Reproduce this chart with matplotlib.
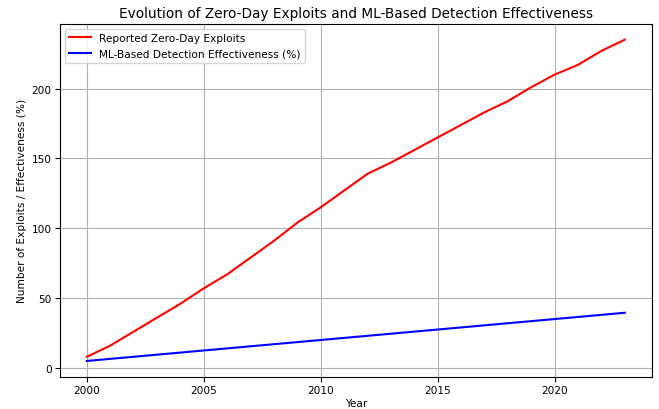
import matplotlib
matplotlib.use("Agg")
import matplotlib.pyplot as plt

years = list(range(2000, 2024))
exploits = [8, 16, 26, 36, 46, 57, 67, 79, 91, 104, 115, 127, 139, 147, 156, 165,
            174, 183, 191, 201, 210, 217, 227, 235]
ml_effect = [5.0, 6.5, 8.0, 9.5, 11.0, 12.5, 14.0, 15.5, 17.0, 18.5, 20.0, 21.5,
             23.0, 24.5, 26.0, 27.5, 29.0, 30.5, 32.0, 33.5, 35.0, 36.5, 38.0, 39.5]

fs = 7.6
fig = plt.figure(figsize=(6.59, 4.1), dpi=100)
ax = fig.add_axes([0.091, 0.078, 0.898, 0.862])
ax.plot(years, exploits, color="red", label="Reported Zero-Day Exploits")
ax.plot(years, ml_effect, color="blue", label="ML-Based Detection Effectiveness (%)")
ax.set_title("Evolution of Zero-Day Exploits and ML-Based Detection Effectiveness",
             fontsize=9.8, pad=5)
ax.set_xlabel("Year", fontsize=fs, labelpad=2)
ax.set_ylabel("Number of Exploits / Effectiveness (%)", fontsize=fs, labelpad=3)
ax.tick_params(labelsize=fs, pad=2.5)
ax.grid(True)
ax.legend(loc="upper left", fontsize=fs)
fig.savefig("out.png", dpi=100)
